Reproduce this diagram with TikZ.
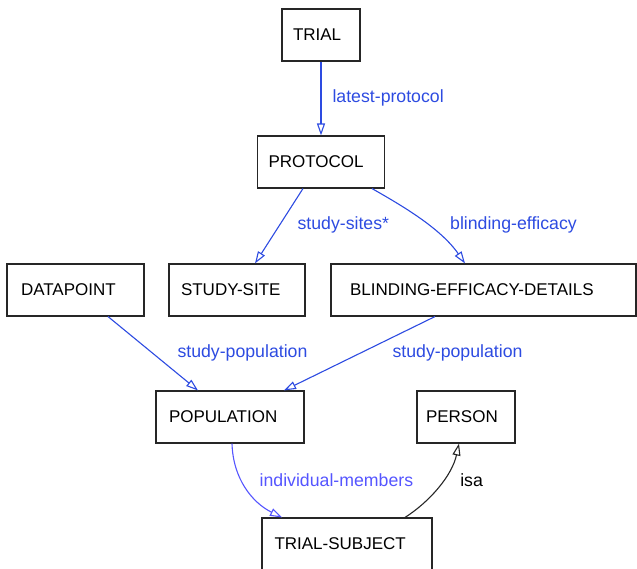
\documentclass[tikz,border=0pt]{standalone}
\usepackage{fontspec}
\setmainfont{Liberation Sans}
\usetikzlibrary{positioning,arrows.meta}
\definecolor{linkblue}{RGB}{45,75,225}
\definecolor{memberblue}{RGB}{85,85,255}

\begin{document}
\begin{tikzpicture}[x=1pt,y=-1pt]
	\tikzstyle{entity}=[rectangle, draw=black!85, line width=1.1pt, fill=white, align=left,
	minimum height=52pt, font=\fontsize{17}{20}\selectfont, text=black]
	\tikzstyle{link}=[linkblue, line width=1.1pt, -{Triangle[open,length=12pt,width=8pt]}]
	\tikzstyle{tag}=[font=\fontsize{17.7}{20}\selectfont, text=linkblue, anchor=west, inner sep=0pt]
	\useasboundingbox (0,0) rectangle (637,569);
	\node (Trial) [entity, inner xsep=11pt, text width=56pt] at (321,35) {TRIAL};
	\node (Protocol) [entity, inner xsep=11pt, text width=105pt] at (321,162) {PROTOCOL};
	\node (Datapoint) [entity, inner xsep=14pt, text width=109pt] at (75.5,290) {DATAPOINT};
	\node (StudySite) [entity, inner xsep=12pt, text width=112pt] at (237,290) {STUDY-SITE};
	\node (Blinding) [entity, inner xsep=19pt, text width=267pt] at (483.5,290) {BLINDING-EFFICACY-DETAILS};
	\node (Population) [entity, inner xsep=13pt, text width=122pt] at (230,417) {POPULATION};
	\node (Person) [entity, inner xsep=9pt, text width=80pt] at (466,417) {PERSON};
	\node (TrialSubject) [entity, inner xsep=12.5pt, text width=145pt] at (347,544) {TRIAL-SUBJECT};
	
	\draw[link] (Trial.south) -- node[tag, pos=0.49, xshift=11pt] {latest-protocol} (Protocol.north);
	\draw[link] ([xshift=-18pt]Protocol.south) -- node[tag, pos=0.487, xshift=17.4pt] {study-sites*} ([xshift=18pt]StudySite.north);
	\draw[link] ([xshift=51pt]Protocol.south) .. controls +(28,16) and +(-25,-36) .. node[tag, pos=0.5, xshift=30pt, yshift=-6.5pt] {blinding-efficacy} ([xshift=-18.5pt]Blinding.north);
	\draw[link] ([xshift=32.5pt]Datapoint.south) -- node[tag, pos=0.493, xshift=24.6pt] {study-population} ([xshift=-32pt]Population.north);
	\draw[link] ([xshift=-48.5pt]Blinding.south) -- node[tag, pos=0.493, xshift=31.5pt] {study-population} ([xshift=54pt]Population.north);
	\draw[link, memberblue] ([xshift=2pt]Population.south) .. controls +(1,35) and +(-30,-15) .. node[tag, text=memberblue, pos=0.5, xshift=13pt, yshift=8pt] {individual-members} ([xshift=-65pt]TrialSubject.north);
	\draw[link, black!85] ([xshift=58pt]TrialSubject.north) .. controls +(25,-16) and +(-7,32) .. node[tag, text=black, pos=0.5, xshift=21pt, yshift=6.5pt] {isa} ([xshift=-7pt]Person.south);
\end{tikzpicture}
\end{document}
